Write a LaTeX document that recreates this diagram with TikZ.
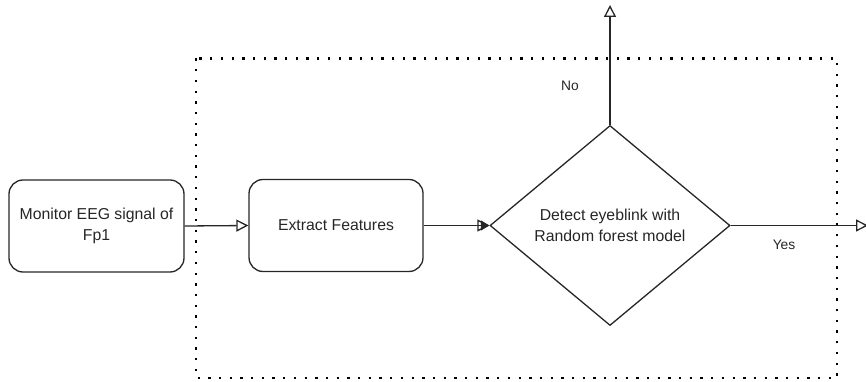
\documentclass[tikz,border=0pt]{standalone}
\usepackage{fontspec}
\setmainfont{Liberation Sans}
\usetikzlibrary{arrows.meta,shapes.geometric}

\tikzset{
  ink/.style={draw=black!85, line width=1.3pt},
  procbox/.style={ink, rounded corners=14pt, minimum width=175pt, minimum height=92pt,
    align=center, font=\fontsize{15.8}{21}\selectfont, text=black!85, inner sep=0pt},
  decision/.style={ink, diamond, minimum width=240pt, minimum height=200pt, aspect=1.2,
    align=center, font=\fontsize{15.8}{21}\selectfont, text=black!85, inner sep=0pt},
  flow/.style={ink, -{Triangle[open, length=12pt, width=12pt]}},
  flowfilled/.style={ink, -{Triangle[open, length=12pt, width=12pt, sep=-8.5pt] Triangle[length=8.5pt, width=10pt]}},
  lbl/.style={font=\fontsize{13.8}{16}\selectfont, text=black!85, inner sep=0pt},
  frame/.style={draw=black, line width=2.3pt, dash pattern=on 2.3pt off 8.4pt}
}

\begin{document}
\begin{tikzpicture}[x=1pt, y=-1pt]
  \useasboundingbox (0,0) rectangle (866,382);

  % dotted frame around the processing stages
  \draw[frame] (196,58.5) rectangle (837,378);

  % stages
  \node[procbox] (monitor) at (96.5,226) {Monitor EEG signal of\\Fp1};
  \node[procbox, minimum width=174pt] (extract) at (336,225.5) {Extract Features};
  \node[decision] (detect) at (610,225.5) {Detect eyeblink with\\Random forest model};

  % free ends of the outgoing branches
  \coordinate (noend) at (610,5);
  \coordinate (yesend) at (868,225.5);

  % connectors
  \draw[flow] (monitor.east) -- (extract.west);
  \draw[flowfilled] (extract.east) -- (detect.west);
  \draw[flow] (detect.north) -- (noend);
  \draw[flow] (detect.east) -- (yesend);

  % branch labels
  \node[lbl] (nolbl) at (570,86) {No};
  \node[lbl] (yeslbl) at (784,245) {Yes};
\end{tikzpicture}
\end{document}
